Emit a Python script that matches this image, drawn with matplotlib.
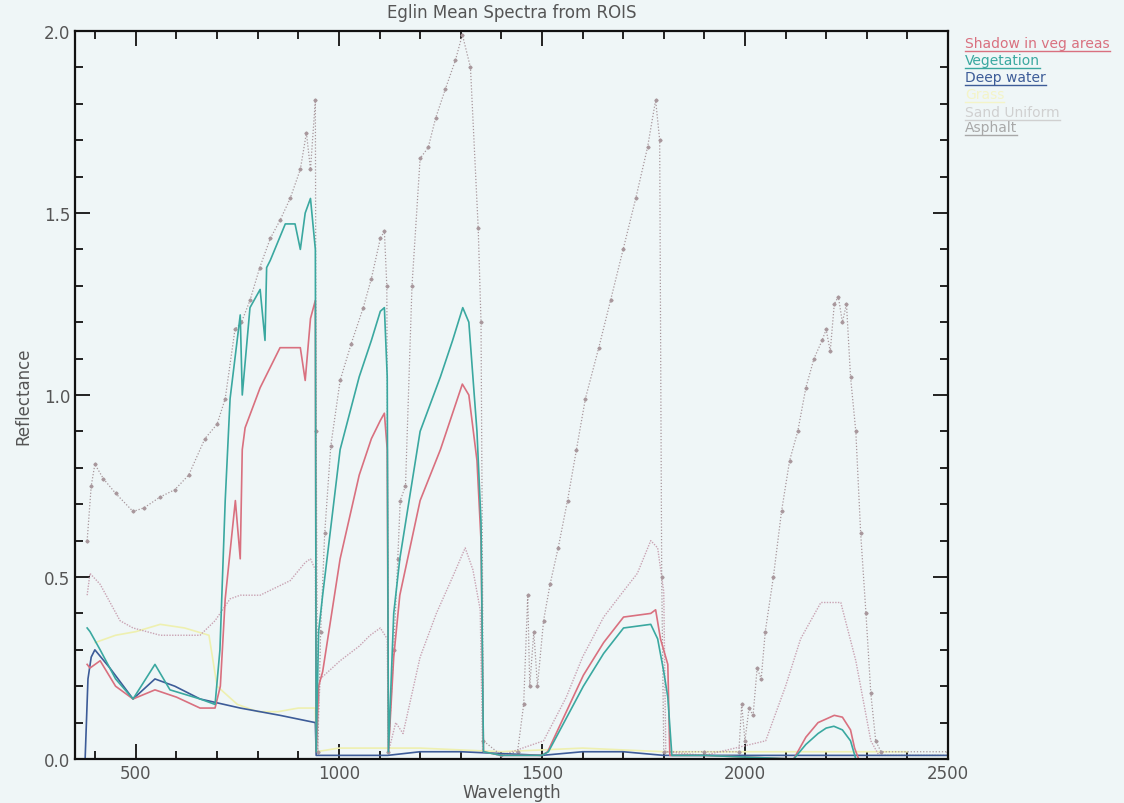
import matplotlib
matplotlib.use("Agg")
import matplotlib.pyplot as plt
import numpy as np
from matplotlib.lines import Line2D
from matplotlib.ticker import MultipleLocator

# ---------------- data ----------------
bright_wl = [380, 390, 399, 420, 450, 493, 520, 560, 596, 630, 670, 700, 720, 744, 760, 781, 805, 831,
             855, 880, 905, 920, 930, 942, 944, 948,
             955, 965, 980, 1003, 1030, 1060, 1080, 1102, 1112, 1118, 1122,
             1135, 1145, 1151, 1164, 1180, 1200, 1220, 1238, 1262, 1287, 1304, 1324, 1343, 1350, 1356,
             1400, 1440, 1455, 1465, 1470, 1480, 1489, 1504, 1520, 1540, 1563, 1585, 1607, 1640, 1669,
             1700, 1731, 1760, 1780, 1790, 1795, 1800,
             1900, 1985, 1992, 2000, 2010, 2020, 2030, 2040, 2050, 2070, 2090, 2110, 2130, 2150, 2170,
             2190, 2200, 2210, 2220, 2230, 2240, 2250, 2260, 2273, 2285, 2298, 2310, 2322, 2335, 2500]
bright_val = [0.60, 0.75, 0.81, 0.77, 0.73, 0.68, 0.69, 0.72, 0.74, 0.78, 0.88, 0.92, 0.99, 1.18, 1.20,
              1.26, 1.35, 1.43, 1.48, 1.54, 1.62, 1.72, 1.62, 1.81, 0.9, 0.02,
              0.35, 0.62, 0.86, 1.04, 1.14, 1.24, 1.32, 1.43, 1.45, 1.30, 0.02,
              0.30, 0.55, 0.71, 0.75, 1.30, 1.65, 1.68, 1.76, 1.84, 1.92, 1.99, 1.90, 1.46, 1.20, 0.05,
              0.01, 0.02, 0.15, 0.45, 0.20, 0.35, 0.20, 0.38, 0.48, 0.58, 0.71, 0.85, 0.99, 1.13, 1.26,
              1.40, 1.54, 1.68, 1.81, 1.70, 0.50, 0.02,
              0.02, 0.02, 0.15, 0.05, 0.14, 0.12, 0.25, 0.22, 0.35, 0.50, 0.68, 0.82, 0.90, 1.02, 1.10,
              1.15, 1.18, 1.12, 1.25, 1.27, 1.20, 1.25, 1.05, 0.90, 0.62, 0.40, 0.18, 0.05, 0.02, 0.02]

mauve_wl = [380, 387, 412, 461, 493, 560, 658, 695, 732, 757, 806, 880, 917, 930, 942, 944,
            954, 1003, 1050, 1077, 1102, 1119, 1122,
            1140, 1158, 1200, 1240, 1280, 1311, 1330, 1348, 1354,
            1400, 1504, 1560, 1600, 1652, 1700, 1735, 1768, 1785, 1800, 1805,
            1900, 2051, 2100, 2137, 2187, 2236, 2273, 2310, 2330, 2500]
mauve_val = [0.45, 0.51, 0.48, 0.38, 0.36, 0.34, 0.34, 0.38, 0.44, 0.45, 0.45, 0.49, 0.54, 0.55, 0.52, 0.02,
             0.22, 0.27, 0.31, 0.34, 0.36, 0.33, 0.02,
             0.10, 0.07, 0.28, 0.40, 0.50, 0.58, 0.52, 0.41, 0.02,
             0.01, 0.05, 0.17, 0.28, 0.39, 0.46, 0.51, 0.60, 0.58, 0.46, 0.02,
             0.01, 0.05, 0.20, 0.33, 0.43, 0.43, 0.27, 0.05, 0.01, 0.01]

shadow_wl = [380, 387, 412, 450, 493, 547, 600, 658, 695, 708, 720, 745, 757, 762, 769, 806, 855, 905,
             917, 930, 942, 944,
             950, 960, 1003, 1050, 1080, 1102, 1112, 1119, 1122,
             1135, 1150, 1200, 1250, 1280, 1304, 1320, 1340, 1350, 1356,
             1400, 1500, 1514, 1602, 1652, 1701, 1768, 1780, 1792, 1810, 1815,
             1900, 2120, 2150, 2180, 2200, 2220, 2240, 2260, 2270, 2280, 2500]
shadow_val = [0.26, 0.25, 0.27, 0.20, 0.165, 0.19, 0.17, 0.14, 0.14, 0.20, 0.44, 0.71, 0.55, 0.85, 0.91,
              1.02, 1.13, 1.13, 1.04, 1.21, 1.26, 0.02,
              0.20, 0.24, 0.55, 0.78, 0.88, 0.93, 0.95, 0.85, 0.02,
              0.28, 0.45, 0.71, 0.85, 0.95, 1.03, 1.00, 0.82, 0.60, 0.02,
              0.01, 0.01, 0.02, 0.23, 0.32, 0.39, 0.40, 0.41, 0.33, 0.26, 0.01,
              0.01, 0.00, 0.06, 0.10, 0.11, 0.12, 0.115, 0.08, 0.03, 0.00, 0.00]

veg_wl = [380, 387, 412, 450, 493, 547, 584, 658, 695, 707, 720, 732, 757, 762, 781, 806, 818, 822, 831,
          868, 892, 905, 917, 930, 942, 944,
          950, 960, 1003, 1050, 1080, 1102, 1112, 1119, 1122,
          1135, 1150, 1200, 1250, 1280, 1305, 1320, 1340, 1350, 1356,
          1400, 1500, 1516, 1602, 1652, 1701, 1768, 1785, 1800, 1810, 1820,
          1900, 2120, 2150, 2180, 2200, 2219, 2240, 2260, 2273, 2500]
veg_val = [0.36, 0.35, 0.30, 0.22, 0.165, 0.26, 0.19, 0.165, 0.15, 0.30, 0.71, 0.99, 1.22, 1.00, 1.24,
           1.29, 1.15, 1.35, 1.37, 1.47, 1.47, 1.40, 1.50, 1.54, 1.40, 0.02,
           0.35, 0.45, 0.85, 1.05, 1.15, 1.23, 1.24, 1.05, 0.02,
           0.40, 0.55, 0.90, 1.05, 1.15, 1.24, 1.20, 0.90, 0.65, 0.02,
           0.01, 0.01, 0.02, 0.20, 0.29, 0.36, 0.37, 0.33, 0.24, 0.17, 0.01,
           0.01, 0.00, 0.04, 0.07, 0.085, 0.09, 0.08, 0.05, 0.00, 0.00]

water_wl = [375, 382, 390, 399, 436, 493, 547, 596, 658, 757, 855, 942, 944,
            1000, 1120, 1200, 1300, 1500, 1600, 1700, 1800, 2000, 2500]
water_val = [0.00, 0.22, 0.28, 0.30, 0.25, 0.165, 0.22, 0.20, 0.165, 0.14, 0.12, 0.10, 0.01,
             0.01, 0.01, 0.02, 0.02, 0.01, 0.02, 0.02, 0.01, 0.01, 0.01]

yellow_wl = [400, 450, 500, 560, 620, 680, 700, 750, 800, 850, 900, 942, 944,
             1000, 1200, 1400, 1600, 1800, 2000, 2200, 2400]
yellow_val = [0.32, 0.34, 0.35, 0.37, 0.36, 0.34, 0.20, 0.15, 0.13, 0.13, 0.14, 0.14, 0.02,
              0.03, 0.03, 0.02, 0.03, 0.02, 0.02, 0.02, 0.02]

legend_names = ["Shadow in veg areas", "Vegetation", "Deep water", "Grass", "Sand Uniform", "Asphalt"]

# ---------------- figure ----------------
bg = "#eff6f7"
fig = plt.figure(figsize=(11.24, 8.04), dpi=100, facecolor=bg)
ax = fig.add_axes([0.0667, 0.0547, 0.7767, 0.9055], facecolor=bg)

c_shadow = "#d9707f"
c_veg = "#3aa8a0"
c_water = "#3d5c98"
c_yellow = "#eef0b0"
c_mauve = "#c9a3b3"
c_bright = "#a8979c"

ax.plot(yellow_wl, yellow_val, color=c_yellow, lw=1.2)
ax.plot(mauve_wl, mauve_val, color=c_mauve, lw=1.0, ls=(0, (1, 1)))
ax.plot(bright_wl, bright_val, color=c_bright, lw=0.9, ls=(0, (1, 1.5)),
        marker="D", ms=1.6, mfc=c_bright, mec=c_bright)
ax.plot(water_wl, water_val, color=c_water, lw=1.2)
ax.plot(shadow_wl, shadow_val, color=c_shadow, lw=1.2)
ax.plot(veg_wl, veg_val, color=c_veg, lw=1.2)

ax.set_xlim(350, 2500)
ax.set_ylim(0, 2.0)
ax.xaxis.set_major_locator(MultipleLocator(500))
ax.xaxis.set_minor_locator(MultipleLocator(100))
ax.yaxis.set_major_locator(MultipleLocator(0.5))
ax.yaxis.set_minor_locator(MultipleLocator(0.1))
ax.yaxis.set_major_formatter(matplotlib.ticker.FormatStrFormatter("%.1f"))
ax.tick_params(which="both", direction="in", top=True, right=True, width=1.4, colors="#222222",
               labelcolor="#555555", labelsize=12)
ax.tick_params(which="major", length=11)
ax.tick_params(which="minor", length=6)
for s in ax.spines.values():
    s.set_linewidth(1.6)
    s.set_color("#111111")

ax.set_xlabel("Wavelength", fontsize=12, color="#555555", labelpad=1)
ax.set_ylabel("Reflectance", fontsize=12, color="#555555", labelpad=8)
fig.text(0.455, 0.984, "Eglin Mean Spectra from ROIS", ha="center", va="center",
         fontsize=12, color="#555555")

# legend (underlined labels, IDL style)
leg_colors = [c_shadow, c_veg, c_water, "#f4f4c8", "#d0d0d0", "#a8a8a8"]
leg_y = [44, 61, 78, 95, 113, 128]
fig.canvas.draw()
r = fig.canvas.get_renderer()
for name, col, yp in zip(legend_names, leg_colors, leg_y):
    t = fig.text(965 / 1124, 1 - yp / 804, name, ha="left", va="center", fontsize=10, color=col)
    bb = t.get_window_extent(renderer=r)
    yl = (bb.y0 - 1) / 804
    fig.add_artist(Line2D([bb.x0 / 1124, bb.x1 / 1124], [yl, yl], color=col, lw=1.0,
                          transform=fig.transFigure))

fig.savefig("out.png", dpi=100, facecolor=bg)
